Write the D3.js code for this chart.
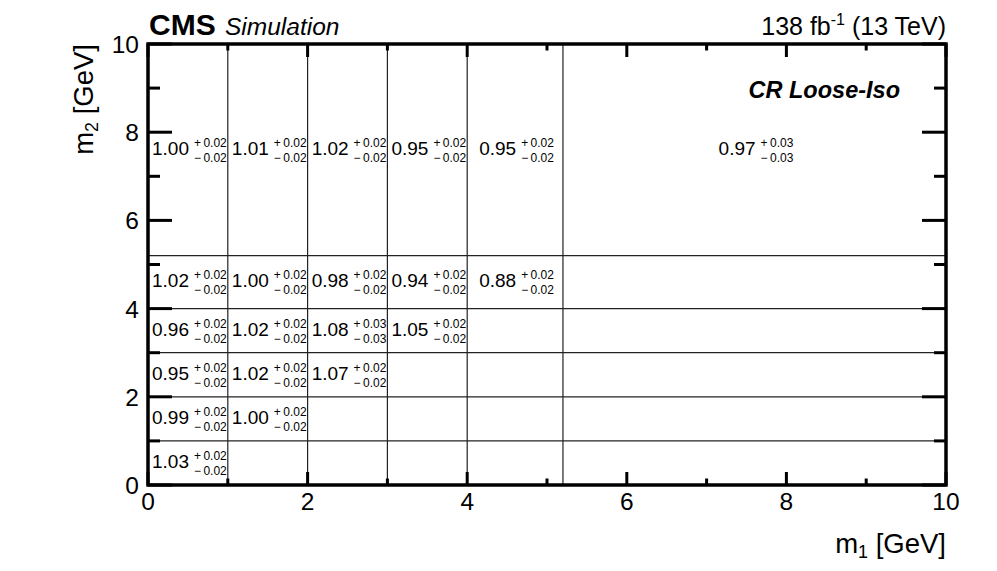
<!DOCTYPE html>
<html>
<head>
<meta charset="utf-8">
<script src="https://cdn.jsdelivr.net/npm/d3@7"></script>
<style>
  html, body { margin: 0; padding: 0; background: #fff; }
  svg { display: block; font-family: "Liberation Sans", Arial, Helvetica, sans-serif; }
</style>
</head>
<body>
<svg id="chart" width="997" height="571"></svg>
<script>
// ---- data ----
const m1Edges = [0, 1, 2, 3, 4, 5.2, 10];
const m2Edges = [0, 1, 2, 3, 4, 5.2, 10];
// ratio[i][j]: i = m2 bin, j = m1 bin
const ratio = [
  [1.03],
  [0.99, 1.00],
  [0.95, 1.02, 1.07],
  [0.96, 1.02, 1.08, 1.05],
  [1.02, 1.00, 0.98, 0.94, 0.88],
  [1.00, 1.01, 1.02, 0.95, 0.95, 0.97]
];
const errUp = [
  [0.02],
  [0.02, 0.02],
  [0.02, 0.02, 0.02],
  [0.02, 0.02, 0.03, 0.02],
  [0.02, 0.02, 0.02, 0.02, 0.02],
  [0.02, 0.02, 0.02, 0.02, 0.02, 0.03]
];
const errDown = [
  [0.02],
  [0.02, 0.02],
  [0.02, 0.02, 0.02],
  [0.02, 0.02, 0.03, 0.02],
  [0.02, 0.02, 0.02, 0.02, 0.02],
  [0.02, 0.02, 0.02, 0.02, 0.02, 0.03]
];
const majorTicks = [0, 2, 4, 6, 8, 10];
const minorTicks = [1, 3, 5, 7, 9];
const xTitle = "m", xSub = "1", yTitle = "m", ySub = "2", unit = " [GeV]";
const regionLabel = "CR Loose-Iso";

// ---- layout ----
const svg = d3.select("#chart");
const x = d3.scaleLinear().domain([0, 10]).range([148, 946]);
const y = d3.scaleLinear().domain([0, 10]).range([485, 44]);
const fmt = d3.format(".2f");

// grid lines (bin edges)
const g = svg.append("g");
m1Edges.slice(1, -1).forEach(e => {
  g.append("line").attr("x1", x(e)).attr("x2", x(e)).attr("y1", y(0)).attr("y2", y(10))
    .attr("stroke", "#222").attr("stroke-width", 1.2);
});
m2Edges.slice(1, -1).forEach(e => {
  g.append("line").attr("y1", y(e)).attr("y2", y(e)).attr("x1", x(0)).attr("x2", x(10))
    .attr("stroke", "#222").attr("stroke-width", 1.2);
});

// cell texts
const mainSize = 19, smallSize = 12;
ratio.forEach((row, i) => {
  row.forEach((v, j) => {
    const cx = (x(m1Edges[j]) + x(m1Edges[j + 1])) / 2;
    const cy = (y(m2Edges[i]) + y(m2Edges[i + 1])) / 2;
    const cell = svg.append("g");
    const main = cell.append("text").attr("font-size", mainSize).attr("y", 0).text(fmt(v));
    const up = cell.append("text").attr("font-size", smallSize).attr("y", -8).text("+\u2009" + fmt(errUp[i][j]));
    const dn = cell.append("text").attr("font-size", smallSize).attr("y", 7).text("\u2212\u2009" + fmt(errDown[i][j]));
    const wMain = main.node().getComputedTextLength();
    const wSmall = Math.max(up.node().getComputedTextLength(), dn.node().getComputedTextLength());
    const gap = 5;
    const total = wMain + gap + wSmall;
    main.attr("x", 0);
    up.attr("x", wMain + gap + wSmall).attr("text-anchor", "end");
    dn.attr("x", wMain + gap + wSmall).attr("text-anchor", "end");
    cell.attr("transform", `translate(${cx - total / 2 + 1.5},${cy + 5})`);
  });
});

// frame
svg.append("rect").attr("x", x(0)).attr("y", y(10)).attr("width", x(10) - x(0)).attr("height", y(0) - y(10))
  .attr("fill", "none").attr("stroke", "#000").attr("stroke-width", 3.5);

// ticks
const tk = svg.append("g").attr("stroke", "#000").attr("stroke-width", 3);
const xMaj = 13, xMin = 6.5, yMaj = 24, yMin = 12;
majorTicks.concat(minorTicks).forEach(t => {
  const isMaj = majorTicks.includes(t);
  const lx = isMaj ? xMaj : xMin, ly = isMaj ? yMaj : yMin;
  tk.append("line").attr("x1", x(t)).attr("x2", x(t)).attr("y1", y(0)).attr("y2", y(0) - lx);
  tk.append("line").attr("x1", x(t)).attr("x2", x(t)).attr("y1", y(10)).attr("y2", y(10) + lx);
  tk.append("line").attr("y1", y(t)).attr("y2", y(t)).attr("x1", x(0)).attr("x2", x(0) + ly);
  tk.append("line").attr("y1", y(t)).attr("y2", y(t)).attr("x1", x(10)).attr("x2", x(10) - ly);
});

// tick labels
const labSize = 24.5;
majorTicks.forEach(t => {
  svg.append("text").attr("x", x(t)).attr("y", 510).attr("text-anchor", "middle")
    .attr("font-size", labSize).text(t);
  svg.append("text").attr("x", 139).attr("y", y(t) + 9).attr("text-anchor", "end")
    .attr("font-size", labSize).text(t);
});

// axis titles
const tsize = 27.5;
const xt = svg.append("text").attr("x", 946).attr("y", 553).attr("text-anchor", "end").attr("font-size", tsize);
xt.append("tspan").text(xTitle);
xt.append("tspan").attr("font-size", tsize * 0.65).attr("dy", 5).text(xSub);
xt.append("tspan").attr("dy", -5).text(unit);

const yt = svg.append("text").attr("transform", "translate(93,44) rotate(-90)").attr("text-anchor", "end").attr("font-size", tsize);
yt.append("tspan").text(yTitle);
yt.append("tspan").attr("font-size", tsize * 0.65).attr("dy", 5).text(ySub);
yt.append("tspan").attr("dy", -5).text(unit);

// header
svg.append("text").attr("x", 149).attr("y", 35).attr("font-size", 30).attr("font-weight", "bold").text("CMS");
svg.append("text").attr("x", 225).attr("y", 35).attr("font-size", 24.5).attr("font-style", "italic").text("Simulation");
const lum = svg.append("text").attr("x", 946).attr("y", 35).attr("text-anchor", "end").attr("font-size", 25);
lum.append("tspan").text("138 fb");
lum.append("tspan").attr("font-size", 16).attr("dy", -10).text("-1");
lum.append("tspan").attr("dy", 10).text(" (13 TeV)");

svg.append("text").attr("x", 900).attr("y", 98).attr("text-anchor", "end").attr("font-size", 23.5)
  .attr("font-weight", "bold").attr("font-style", "italic").text(regionLabel);
</script>
</body>
</html>
